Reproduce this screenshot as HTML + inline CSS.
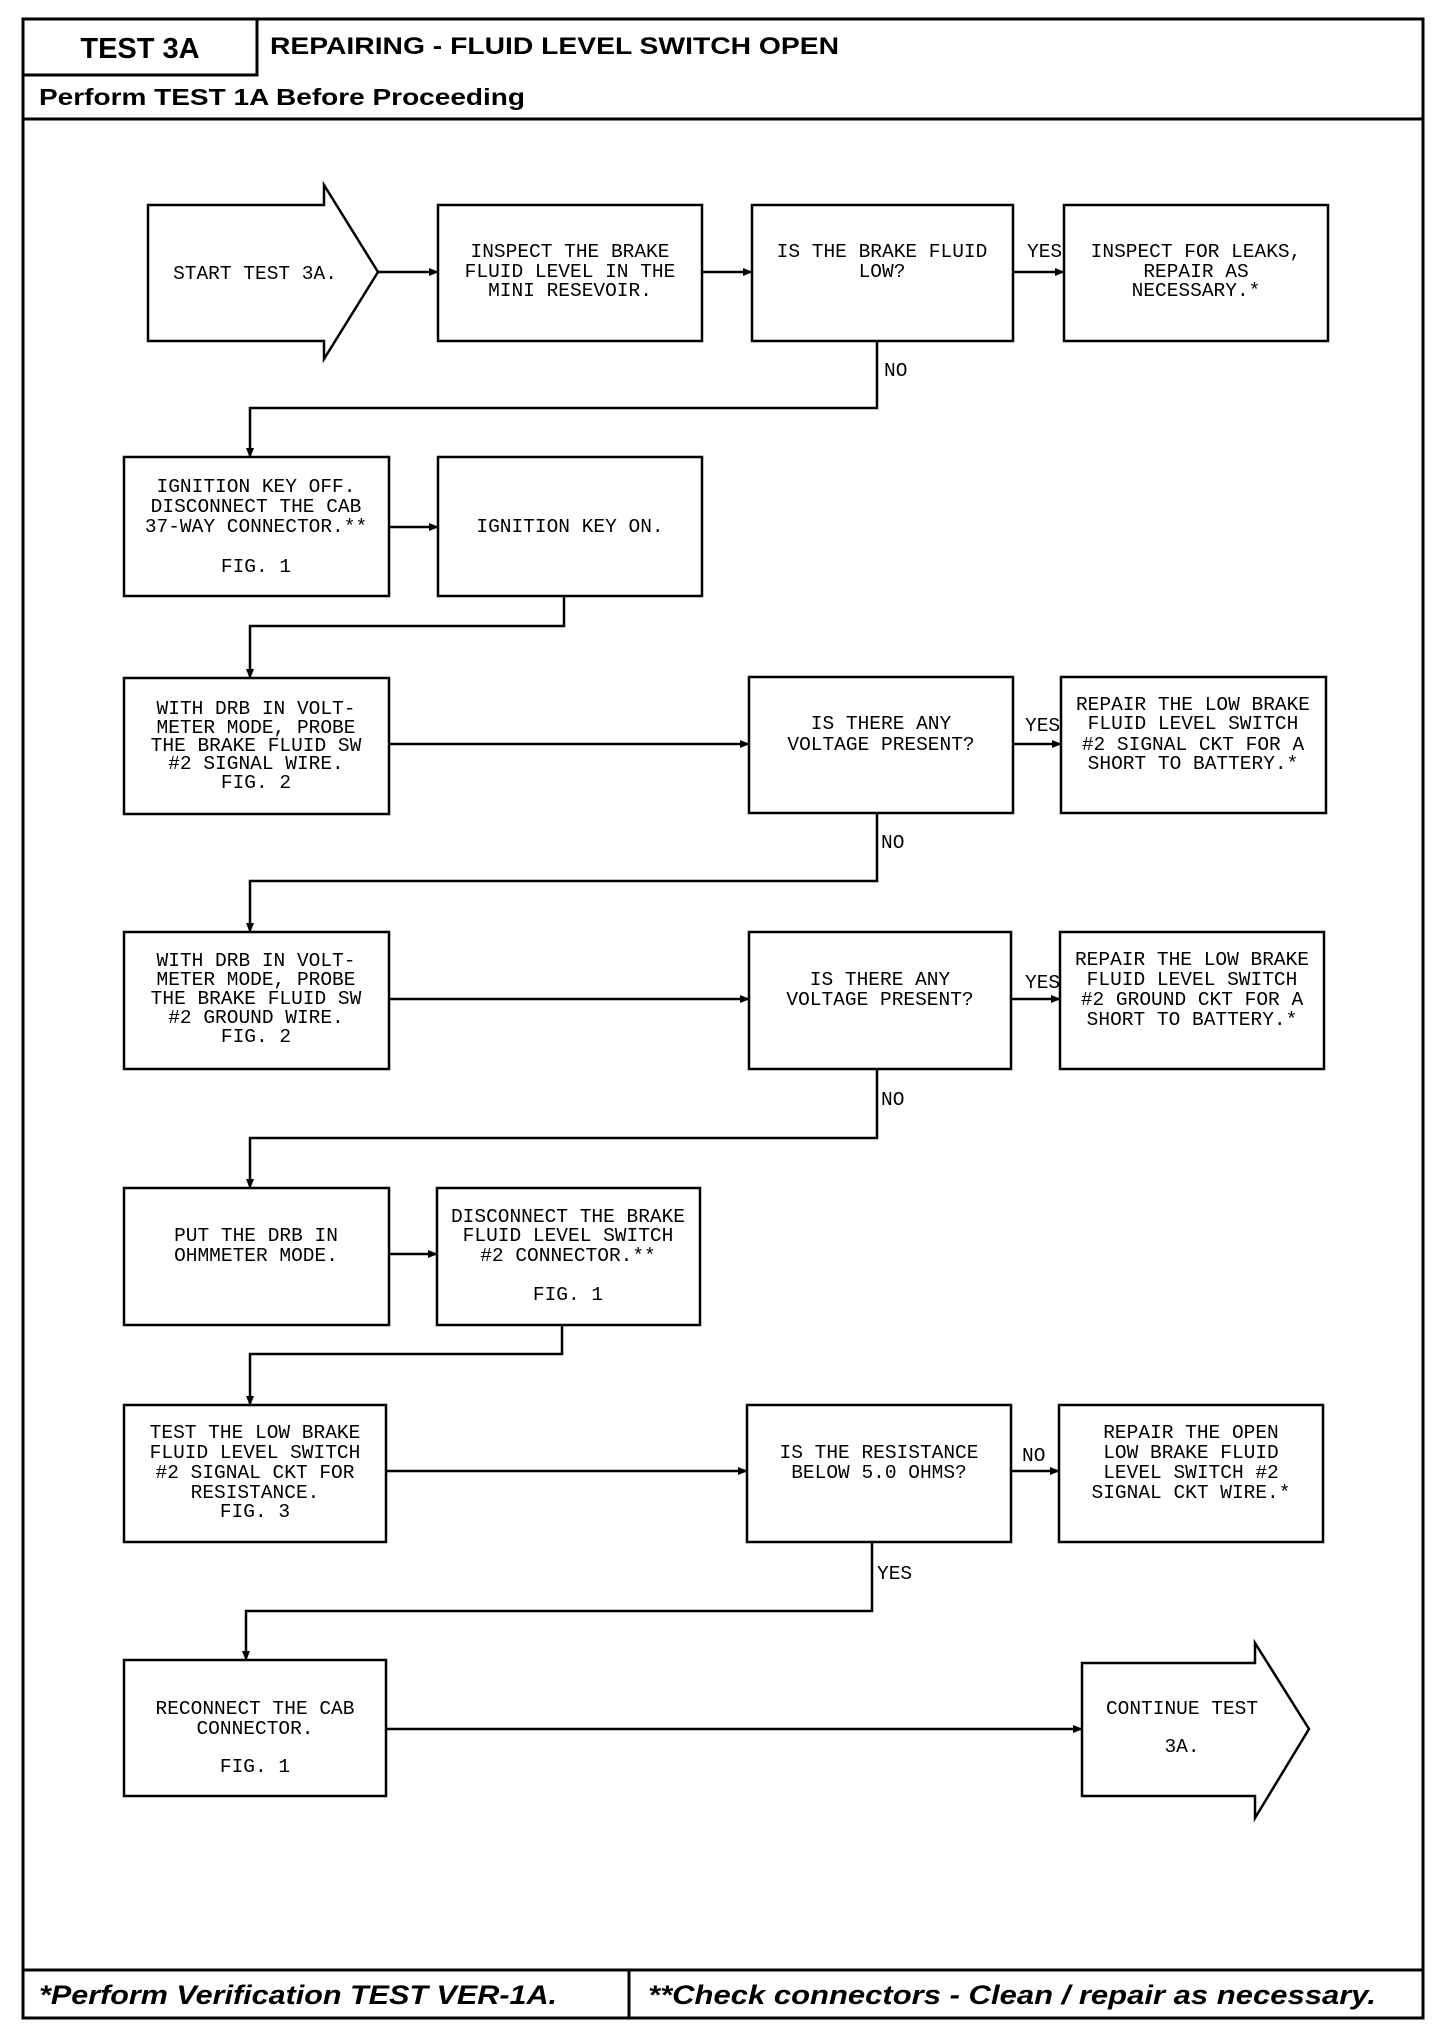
<!DOCTYPE html>
<html><head><meta charset="utf-8"><style>
html,body{margin:0;padding:0;background:#fff;}
svg{display:block}
.t{font-family:"Liberation Mono",monospace;font-size:19.5px;text-anchor:middle;fill:#000}
.l{font-family:"Liberation Mono",monospace;font-size:19.5px;fill:#000}
.h{font-family:"Liberation Sans",sans-serif;font-weight:bold;fill:#000}
</style></head><body>
<svg width="1456" height="2036" viewBox="0 0 1456 2036" xmlns="http://www.w3.org/2000/svg">
<defs><marker id="a" markerWidth="10" markerHeight="8" refX="9" refY="4" orient="auto" markerUnits="userSpaceOnUse"><path d="M0,0 L10,4 L0,8 Z" fill="#000"/></marker></defs>
<g fill="none" stroke="#000" stroke-width="3">
<rect x="23" y="19" width="1400" height="1999"/>
<path d="M23 75 H257 V19"/>
<path d="M23 119 H1423"/>
<path d="M23 1970 H1423 M629 1970 V2018"/>
</g>
<text class="h" x="140" y="58" font-size="29" text-anchor="middle">TEST 3A</text>
<text class="h" x="270" y="54" font-size="24" textLength="569" lengthAdjust="spacingAndGlyphs">REPAIRING - FLUID LEVEL SWITCH OPEN</text>
<text class="h" x="39" y="105" font-size="23" textLength="486" lengthAdjust="spacingAndGlyphs">Perform TEST 1A Before Proceeding</text>
<text class="h" x="39" y="2004" font-size="27" font-style="italic" textLength="518" lengthAdjust="spacingAndGlyphs">*Perform Verification TEST VER-1A.</text>
<text class="h" x="648" y="2004" font-size="27" font-style="italic" textLength="728" lengthAdjust="spacingAndGlyphs">**Check connectors - Clean / repair as necessary.</text>

<g fill="none" stroke="#000" stroke-width="2.5">
<path d="M148 205 H324 V185 L378 272 L324 359 V341 H148 Z"/>
<rect x="438" y="205" width="264" height="136"/>
<rect x="752" y="205" width="261" height="136"/>
<rect x="1064" y="205" width="264" height="136"/>
<rect x="124" y="457" width="265" height="139"/>
<rect x="438" y="457" width="264" height="139"/>
<rect x="124" y="678" width="265" height="136"/>
<rect x="749" y="677" width="264" height="136"/>
<rect x="1061" y="677" width="265" height="136"/>
<rect x="124" y="932" width="265" height="137"/>
<rect x="749" y="932" width="262" height="137"/>
<rect x="1060" y="932" width="264" height="137"/>
<rect x="124" y="1188" width="265" height="137"/>
<rect x="437" y="1188" width="263" height="137"/>
<rect x="124" y="1405" width="262" height="137"/>
<rect x="747" y="1405" width="264" height="137"/>
<rect x="1059" y="1405" width="264" height="137"/>
<rect x="124" y="1660" width="262" height="136"/>
<path d="M1082 1663 H1255 V1643 L1309 1729 L1255 1818 V1796 H1082 Z"/>
</g>
<g fill="none" stroke="#000" stroke-width="2.5" marker-end="url(#a)">
<path d="M378 272 H438"/>
<path d="M702 272 H752"/>
<path d="M1013 272 H1064"/>
<path d="M877 341 V408 H250 V457"/>
<path d="M389 527 H438"/>
<path d="M564 596 V626 H250 V678"/>
<path d="M389 744 H749"/>
<path d="M1013 744 H1061"/>
<path d="M877 813 V881 H250 V932"/>
<path d="M389 999 H749"/>
<path d="M1011 999 H1060"/>
<path d="M877 1069 V1138 H250 V1188"/>
<path d="M389 1254 H437"/>
<path d="M562 1325 V1354 H250 V1405"/>
<path d="M386 1471 H747"/>
<path d="M1011 1471 H1059"/>
<path d="M872 1542 V1611 H246 V1660"/>
<path d="M386 1729 H1082"/>
</g>
<g class="l">
<text x="1027" y="257">YES</text>
<text x="884" y="376">NO</text>
<text x="1025" y="731">YES</text>
<text x="881" y="848">NO</text>
<text x="1025" y="988">YES</text>
<text x="881" y="1105">NO</text>
<text x="1022" y="1461">NO</text>
<text x="877" y="1579">YES</text>
</g>
<g class="t">
<text x="255" y="279">START TEST 3A.</text>
<text x="570" y="257">INSPECT THE BRAKE</text><text x="570" y="277">FLUID LEVEL IN THE</text><text x="570" y="296">MINI RESEVOIR.</text>
<text x="882" y="257">IS THE BRAKE FLUID</text><text x="882" y="277">LOW?</text>
<text x="1196" y="257">INSPECT FOR LEAKS,</text><text x="1196" y="277">REPAIR AS</text><text x="1196" y="296">NECESSARY.*</text>
<text x="256" y="492">IGNITION KEY OFF.</text><text x="256" y="512">DISCONNECT THE CAB</text><text x="256" y="532">37-WAY CONNECTOR.**</text><text x="256" y="572">FIG. 1</text>
<text x="570" y="532">IGNITION KEY ON.</text>
<text x="256" y="714">WITH DRB IN VOLT-</text><text x="256" y="733">METER MODE, PROBE</text><text x="256" y="751">THE BRAKE FLUID SW</text><text x="256" y="769">#2 SIGNAL WIRE.</text><text x="256" y="788">FIG. 2</text>
<text x="881" y="729">IS THERE ANY</text><text x="881" y="750">VOLTAGE PRESENT?</text>
<text x="1193" y="710">REPAIR THE LOW BRAKE</text><text x="1193" y="729">FLUID LEVEL SWITCH</text><text x="1193" y="750">#2 SIGNAL CKT FOR A</text><text x="1193" y="769">SHORT TO BATTERY.*</text>
<text x="256" y="966">WITH DRB IN VOLT-</text><text x="256" y="985">METER MODE, PROBE</text><text x="256" y="1004">THE BRAKE FLUID SW</text><text x="256" y="1023">#2 GROUND WIRE.</text><text x="256" y="1042">FIG. 2</text>
<text x="880" y="985">IS THERE ANY</text><text x="880" y="1005">VOLTAGE PRESENT?</text>
<text x="1192" y="965">REPAIR THE LOW BRAKE</text><text x="1192" y="985">FLUID LEVEL SWITCH</text><text x="1192" y="1005">#2 GROUND CKT FOR A</text><text x="1192" y="1025">SHORT TO BATTERY.*</text>
<text x="256" y="1241">PUT THE DRB IN</text><text x="256" y="1261">OHMMETER MODE.</text>
<text x="568" y="1222">DISCONNECT THE BRAKE</text><text x="568" y="1241">FLUID LEVEL SWITCH</text><text x="568" y="1261">#2 CONNECTOR.**</text><text x="568" y="1300">FIG. 1</text>
<text x="255" y="1438">TEST THE LOW BRAKE</text><text x="255" y="1458">FLUID LEVEL SWITCH</text><text x="255" y="1478">#2 SIGNAL CKT FOR</text><text x="255" y="1498">RESISTANCE.</text><text x="255" y="1517">FIG. 3</text>
<text x="879" y="1458">IS THE RESISTANCE</text><text x="879" y="1478">BELOW 5.0 OHMS?</text>
<text x="1191" y="1438">REPAIR THE OPEN</text><text x="1191" y="1458">LOW BRAKE FLUID</text><text x="1191" y="1478">LEVEL SWITCH #2</text><text x="1191" y="1498">SIGNAL CKT WIRE.*</text>
<text x="255" y="1714">RECONNECT THE CAB</text><text x="255" y="1734">CONNECTOR.</text><text x="255" y="1772">FIG. 1</text>
<text x="1182" y="1714">CONTINUE TEST</text><text x="1182" y="1752">3A.</text>
</g>
</svg>
</body></html>
